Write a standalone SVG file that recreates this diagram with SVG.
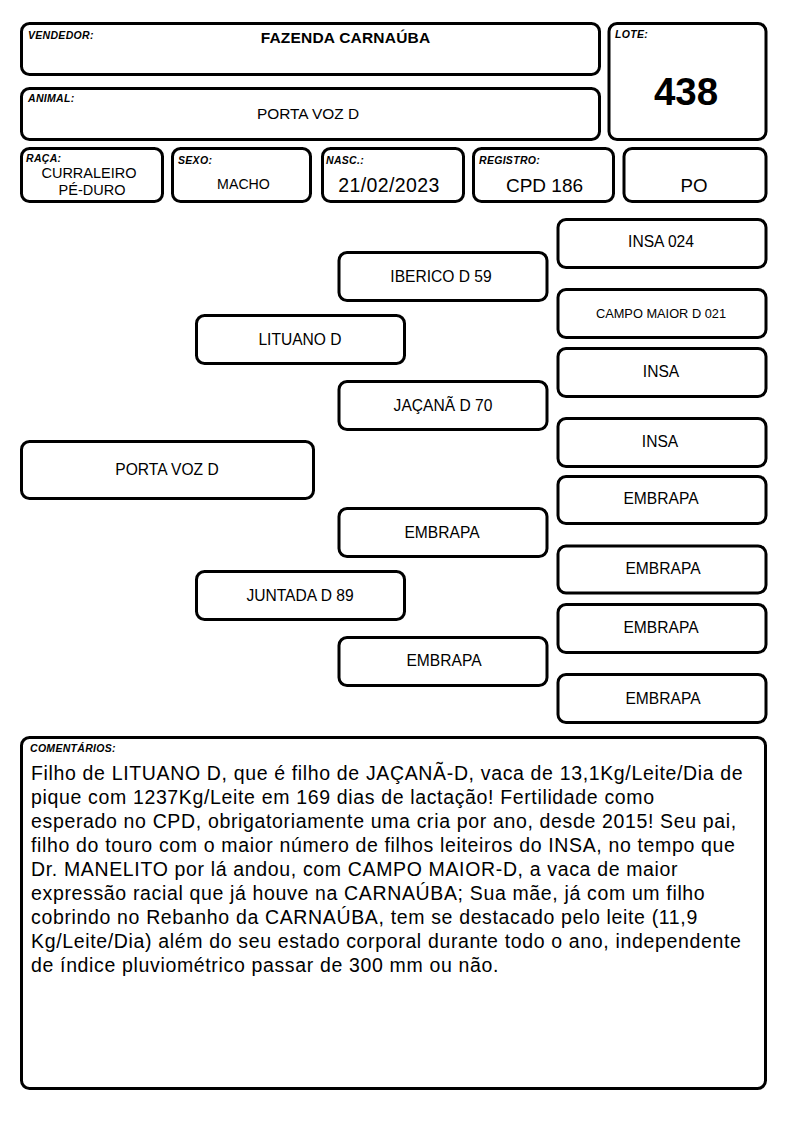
<svg xmlns="http://www.w3.org/2000/svg" width="794" height="1123" viewBox="0 0 794 1123">
<style>
.b{fill:#fff;stroke:#000;stroke-width:3}
.lb{font-family:Arial,'Liberation Sans',Helvetica,sans-serif;font-weight:bold;font-style:italic;font-size:10.5px;letter-spacing:0.3px;fill:#000}
.t{font-family:Arial,'Liberation Sans',Helvetica,sans-serif;fill:#000;text-anchor:middle}
.p{font-size:15.6px}
.c{font-family:Arial,'Liberation Sans',Helvetica,sans-serif;font-size:19.5px;letter-spacing:0.65px;fill:#000}
</style>
<rect width="794" height="1123" fill="#fff"/>
<g id="vendedor"><rect class="b" x="21.5" y="23.5" width="578" height="51" rx="8"/><text class="lb" x="28" y="39">VENDEDOR:</text><text class="t" x="345.5" y="43" font-size="15.5" font-weight="bold" letter-spacing="0.2">FAZENDA CARNAÚBA</text></g>
<g id="animal"><rect class="b" x="21.5" y="88.5" width="578" height="51" rx="8"/><text class="lb" x="28" y="102">ANIMAL:</text><text class="t" x="308" y="119" font-size="15.4">PORTA VOZ D</text></g>
<g id="lote"><rect class="b" x="609" y="23.5" width="157" height="116" rx="8"/><text class="lb" x="615" y="38">LOTE:</text><text class="t" x="686" y="105" font-size="38.5" font-weight="bold">438</text></g>
<g id="raca"><rect class="b" x="21.5" y="148.5" width="141" height="53" rx="8"/><text class="lb" x="26" y="162">RAÇA:</text><text class="t" x="89" y="178" font-size="14.5">CURRALEIRO</text><text class="t" x="92" y="195" font-size="14.5">PÉ-DURO</text></g>
<g id="sexo"><rect class="b" x="172.5" y="148.5" width="138" height="53" rx="8"/><text class="lb" x="178" y="164">SEXO:</text><text class="t" x="243.5" y="189" font-size="14.2">MACHO</text></g>
<g id="nasc"><rect class="b" x="322.5" y="148.5" width="141" height="53" rx="8"/><text class="lb" x="326" y="164">NASC.:</text><text class="t" x="389" y="192" font-size="19.5" letter-spacing="0.4">21/02/2023</text></g>
<g id="registro"><rect class="b" x="473.5" y="148.5" width="140" height="53" rx="8"/><text class="lb" x="479" y="164">REGISTRO:</text><text class="t" x="544.5" y="192" font-size="19">CPD 186</text></g>
<g id="po"><rect class="b" x="624" y="148.5" width="142" height="53" rx="8"/><text class="t" x="694" y="192" font-size="18.7">PO</text></g>
<g id="connectors"></g>
<g id="n-porta"><rect class="b" x="21.5" y="441.5" width="292" height="57" rx="8"/><text class="t p" x="167" y="475">PORTA VOZ D</text></g>
<g id="n-lituano"><rect class="b" x="196.5" y="315.5" width="208" height="48" rx="8"/><text class="t p" x="300" y="345">LITUANO D</text></g>
<g id="n-juntada"><rect class="b" x="196.5" y="571.5" width="208" height="48" rx="8"/><text class="t p" x="300" y="601">JUNTADA D 89</text></g>
<g id="n-iberico"><rect class="b" x="339" y="252.5" width="208" height="48" rx="8"/><text class="t p" x="441" y="282">IBERICO D 59</text></g>
<g id="n-jacana"><rect class="b" x="339" y="381.5" width="208" height="48" rx="8"/><text class="t p" x="443" y="411">JAÇANÃ D 70</text></g>
<g id="n-embrapa-a"><rect class="b" x="339" y="508.5" width="208" height="48" rx="8"/><text class="t p" x="442" y="538">EMBRAPA</text></g>
<g id="n-embrapa-b"><rect class="b" x="339" y="637.5" width="208" height="48" rx="8"/><text class="t p" x="444" y="666">EMBRAPA</text></g>
<g id="n-insa024"><rect class="b" x="558" y="219.5" width="208" height="48" rx="8"/><text class="t p" x="661" y="247">INSA 024</text></g>
<g id="n-campo"><rect class="b" x="558" y="289.5" width="208" height="48" rx="8"/><text class="t" x="661" y="318" font-size="12.8">CAMPO MAIOR D 021</text></g>
<g id="n-insa1"><rect class="b" x="558" y="348.5" width="208" height="48" rx="8"/><text class="t p" x="661" y="377">INSA</text></g>
<g id="n-insa2"><rect class="b" x="558" y="418.5" width="208" height="48" rx="8"/><text class="t p" x="660" y="447">INSA</text></g>
<g id="n-emb1"><rect class="b" x="558" y="476.5" width="208" height="47" rx="8"/><text class="t p" x="661" y="504">EMBRAPA</text></g>
<g id="n-emb2"><rect class="b" x="558" y="546" width="208" height="47" rx="8"/><text class="t p" x="663" y="574">EMBRAPA</text></g>
<g id="n-emb3"><rect class="b" x="558" y="604.5" width="208" height="48" rx="8"/><text class="t p" x="661" y="633">EMBRAPA</text></g>
<g id="n-emb4"><rect class="b" x="558" y="674.5" width="208" height="48" rx="8"/><text class="t p" x="663" y="704">EMBRAPA</text></g>
<g id="comentarios"><rect class="b" x="21.5" y="737.5" width="744" height="351" rx="8"/><text class="lb" x="30" y="752">COMENTÁRIOS:</text>
<text class="c" x="31" y="780">Filho de LITUANO D, que é filho de JAÇANÃ-D, vaca de 13,1Kg/Leite/Dia de</text>
<text class="c" x="31" y="804">pique com 1237Kg/Leite em 169 dias de lactação! Fertilidade como</text>
<text class="c" x="31" y="828">esperado no CPD, obrigatoriamente uma cria por ano, desde 2015! Seu pai,</text>
<text class="c" x="31" y="852">filho do touro com o maior número de filhos leiteiros do INSA, no tempo que</text>
<text class="c" x="31" y="876">Dr. MANELITO por lá andou, com CAMPO MAIOR-D, a vaca de maior</text>
<text class="c" x="31" y="900">expressão racial que já houve na CARNAÚBA; Sua mãe, já com um filho</text>
<text class="c" x="31" y="924">cobrindo no Rebanho da CARNAÚBA, tem se destacado pelo leite (11,9</text>
<text class="c" x="31" y="948">Kg/Leite/Dia) além do seu estado corporal durante todo o ano, independente</text>
<text class="c" x="31" y="972">de índice pluviométrico passar de 300 mm ou não.</text>
</g>
</svg>
